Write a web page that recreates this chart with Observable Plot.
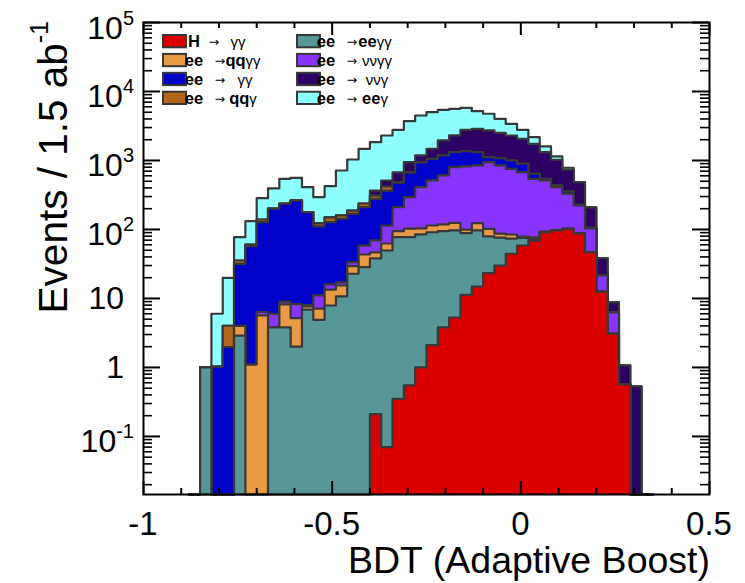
<!DOCTYPE html>
<html>
<head>
<meta charset="utf-8">
<script src="https://cdn.jsdelivr.net/npm/d3@7"></script>
<script src="https://cdn.jsdelivr.net/npm/@observablehq/plot@0.6"></script>
<style>
  html, body { margin: 0; padding: 0; background: #fff; }
  #chart svg { display: block; font-family: "Liberation Sans", Arial, Helvetica, sans-serif; }
</style>
</head>
<body>
<div id="chart"></div>
<script>
// BDT output histogram: low edge of each filled bin (bin width 0.03)
const binWidth = 0.03;
const binLow = [-0.85, -0.82, -0.79, -0.76, -0.73, -0.70, -0.67, -0.64, -0.61, -0.58,
  -0.55, -0.52, -0.49, -0.46, -0.43, -0.40, -0.37, -0.34, -0.31, -0.28,
  -0.25, -0.22, -0.19, -0.16, -0.13, -0.10, -0.07, -0.04, -0.01, 0.02,
  0.05, 0.08, 0.11, 0.14, 0.17, 0.20, 0.23, 0.26, 0.29];

// Events per bin for each process (stacked bottom to top in this order)
const hgg = [0, 0, 0, 0, 0, 0, 0, 0, 0, 0, 0, 0, 0, 0, 0,
  0.21, 0.07, 0.35, 0.55, 1.0, 2.1, 3.8, 5.3, 11.3, 14.9, 23.3, 30, 44.5, 58.6, 69,
  91, 97, 102, 88, 47, 12.6, 3.1, 0.57, 0];
const eeeegg = [1.0, 0, 0, 2.9, 0, 0, 3.8, 3.8, 2.0, 6.9, 4.9, 7.9, 10.7, 22.8, 28.4,
  37.8, 49.5, 77, 77, 84, 89, 91, 92, 77, 82, 56, 46, 29, 17, 4,
  1.5, 0.8, 0.4, 0.2, 0, 0, 0, 0, 0];
const eeqqgg = [0, 0, 0, 1.1, 1.1, 5.7, 0, 4.4, 3.2, 0.8, 2.2, 5.5, 4.7, 6.6, 15,
  8.4, 13, 17, 25, 19, 23, 24, 27, 11, 27, 23, 11, 11, 3.4, 4,
  1, 0.5, 0.3, 0.1, 0, 0, 0, 0, 0];
const eevvgg = [0, 0, 0, 0, 0, 0.66, 2.2, 0.8, 3.1, 0.3, 4.0, 2.6, 1.7, 4.2, 15,
  23, 51, 116, 192, 307, 399, 488, 677, 720, 724, 843, 760, 673, 597, 466,
  420, 313, 227, 135, 56.5, 8.9, 3.2, 0, 0];
const eegg = [0, 1.03, 1.97, 27.8, 56, 121, 194, 227, 255, 170, 100, 112, 126, 135, 152,
  209, 253, 265, 374, 530, 543, 575, 520, 545, 473, 171, 233, 242, 220, 99,
  30, 24, 27, 5, 2, 0, 0, 0, 0];
const eeqqg = [0, 0, 2.05, 3.7, 3, 12, 1, 1, 1, 1, 11.5, 21.7, 16.7, 19.5, 27.5,
  32, 53, 10, 8, 5, 3, 0, 0, 0, 0, 0, 0, 0, 0, 0,
  0, 0, 0, 0, 0, 0, 0, 0, 0];
const eevvg = [0, 0, 0, 0, 0, 0, 0, 0, 0, 0, 0, 0, 0, 0, 0,
  56, 93, 185, 269, 236, 420, 769, 983, 1422, 1560, 1606, 1439, 1303, 1167, 1104,
  777, 589, 377, 257, 103, 16.9, 2.5, 0.5, 0.53];
const eeeeg = [0, 4.97, 15.9, 41.8, 71.8, 145, 194, 306, 297, 231, 172, 274, 556, 845, 1240,
  1474, 1790, 2116, 2767, 3306, 3533, 3480, 3311, 3017, 2300, 2031, 1499, 1101, 723, 431,
  276, 120, 51, 0, 0, 0, 0, 0, 0];

// Process names, drawing colours, and legend layout (column, row)
const processNames = ["H → γγ", "ee → eeγγ", "ee → qqγγ", "ee → ννγγ", "ee → γγ", "ee → qqγ", "ee → ννγ", "ee → eeγ"];
const processColors = ["#da0000", "#579797", "#e89a45", "#8834ff", "#0000c8", "#b4661c", "#2c0062", "#8effff"];
const legendCol = [0, 1, 0, 1, 0, 0, 1, 1];
const legendRow = [0, 0, 1, 1, 2, 3, 2, 3];

// Axis ticks and labels
const xMajor = [-1, -0.5, 0, 0.5];
const xLabels = ["-1", "-0.5", "0", "0.5"];
const xMinor = [-0.9, -0.8, -0.7, -0.6, -0.4, -0.3, -0.2, -0.1, 0.1, 0.2, 0.3, 0.4];
const yMajor = [1e5, 1e4, 1e3, 100, 10, 1, 0.1];
const yLabelBase = ["10", "10", "10", "10", "10", "1", "10"];
const yLabelExp = ["5", "4", "3", "2", "", "", "-1"];
const yMin = 0.0144, yMax = 1e5;
const yMinor = [];
for (let e = -2; e <= 4; e++) for (let k = 2; k <= 9; k++) {
  const v = k * Math.pow(10, e);
  if (v > yMin && v < yMax) yMinor.push(v);
}

const xTitle = "BDT (Adaptive Boost)";
const yTitle = "Events / 1.5 ab";
const yTitleExp = "-1";

const series = [hgg, eeeegg, eeqqgg, eevvgg, eegg, eeqqg, eevvg, eeeeg];

// Cumulative sums give the top of each stacked layer
let running = binLow.map(() => 0);
const stacks = series.map(vals => {
  running = running.map((r, i) => r + vals[i]);
  return running.slice();
});

function stepPoints(cum) {
  const pts = [{x: binLow[0] - binWidth, v: 0}];
  binLow.forEach((x, i) => pts.push({x, v: cum[i]}));
  const end = binLow[binLow.length - 1] + binWidth;
  pts.push({x: end, v: 0}, {x: end + binWidth, v: 0});
  return pts;
}

const W = 745, H = 583;
const M = {top: 22, right: 36, bottom: 89, left: 143};
const frameW = W - M.left - M.right, frameH = H - M.top - M.bottom;
const outline = "#383838";

const marks = [];
// Draw from the full stack downward so each lower layer overlays the one above
for (let j = stacks.length - 1; j >= 0; j--) {
  const pts = stepPoints(stacks[j]);
  marks.push(Plot.areaY(pts, {x: "x", y1: yMin, y2: "v", curve: "step-after", fill: processColors[j]}));
  marks.push(Plot.lineY(pts, {x: "x", y: "v", curve: "step-after", stroke: outline, strokeWidth: 2.2}));
}
// Inward ticks on all four sides
marks.push(
  Plot.tickY(yMajor, {y: d => d, insetRight: frameW - 17, stroke: "black", strokeWidth: 2}),
  Plot.tickY(yMinor, {y: d => d, insetRight: frameW - 9, stroke: "black", strokeWidth: 1.6}),
  Plot.tickY(yMajor, {y: d => d, insetLeft: frameW - 17, stroke: "black", strokeWidth: 2}),
  Plot.tickY(yMinor, {y: d => d, insetLeft: frameW - 9, stroke: "black", strokeWidth: 1.6}),
  Plot.tickX(xMajor, {x: d => d, insetTop: frameH - 13, stroke: "black", strokeWidth: 2}),
  Plot.tickX(xMinor, {x: d => d, insetTop: frameH - 6, stroke: "black", strokeWidth: 2}),
  Plot.tickX(xMajor, {x: d => d, insetBottom: frameH - 13, stroke: "black", strokeWidth: 2}),
  Plot.tickX(xMinor, {x: d => d, insetBottom: frameH - 6, stroke: "black", strokeWidth: 2}),
  Plot.frame({stroke: "black", strokeWidth: 2})
);

const plot = Plot.plot({
  width: W, height: H,
  marginTop: M.top, marginRight: M.right, marginBottom: M.bottom, marginLeft: M.left,
  style: {background: "#fff", fontFamily: "Liberation Sans, Arial, Helvetica, sans-serif"},
  x: {domain: [-1, 0.5], axis: null},
  y: {type: "log", domain: [yMin, yMax], clamp: true, axis: null},
  marks
});
document.getElementById("chart").appendChild(plot);

const xs = plot.scale("x"), ys = plot.scale("y");
const svg = d3.select(plot);
const font = "Liberation Sans, Arial, Helvetica, sans-serif";

// y tick labels with superscript exponents
yMajor.forEach((v, i) => {
  const py = ys.apply(v);
  if (yLabelExp[i]) {
    const t = svg.append("text").attr("x", 134).attr("y", py + 16.5)
      .attr("text-anchor", "end").attr("font-family", font).attr("font-size", 32).attr("fill", "black");
    t.append("tspan").text(yLabelBase[i]);
    t.append("tspan").attr("dy", -14).attr("font-size", 20).text(yLabelExp[i]);
  } else {
    svg.append("text").attr("x", 124).attr("y", py + 11.5)
      .attr("text-anchor", "end").attr("font-family", font).attr("font-size", 32).attr("fill", "black")
      .text(yLabelBase[i]);
  }
});

// x tick labels
xMajor.forEach((v, i) => {
  svg.append("text").attr("x", xs.apply(v)).attr("y", 535)
    .attr("text-anchor", "middle").attr("font-family", font).attr("font-size", 33).attr("fill", "black")
    .text(xLabels[i]);
});

// axis titles
svg.append("text").attr("x", 710).attr("y", 573).attr("text-anchor", "end")
  .attr("font-family", font).attr("font-size", 37.5).attr("fill", "black").text(xTitle);
const yt = svg.append("text").attr("transform", "translate(67,21) rotate(-90)")
  .attr("text-anchor", "end").attr("font-family", font).attr("font-size", 40.5).attr("fill", "black");
yt.append("tspan").text(yTitle);
yt.append("tspan").attr("dy", -19).attr("font-size", 25).text(yTitleExp);

// legend: coloured boxes and process labels in two columns
const legend = svg.append("g");
const boldParts = /^(H|ee|qq)/;
processNames.forEach((name, j) => {
  const col = legendCol[j];
  const bx = col === 0 ? 163 : 297;
  const by = 35 + legendRow[j] * 18.9;
  legend.append("rect").attr("x", bx).attr("y", by).attr("width", 23).attr("height", 12.3)
    .attr("fill", processColors[j]).attr("stroke", outline).attr("stroke-width", 2);
  const [lhs, rhs] = name.split(" → ");
  const tx = col === 0 ? 194 : 326, ty = by + 12;
  legend.append("text").attr("x", tx).attr("y", ty).attr("font-family", font)
    .attr("font-size", 16.5).attr("font-weight", "bold").text(lhs);
  const ax = lhs === "H" ? tx + 20 : tx + 26;
  legend.append("text").attr("x", ax).attr("y", ty - 1).attr("font-family", "DejaVu Sans")
    .attr("font-size", 12.5).text("→");
  const rx = lhs === "H" ? tx + 44 : (rhs.startsWith("νν") || (col === 0 && rhs.startsWith("γ")) ? tx + 51 : tx + 49);
  const rt = legend.append("text").attr("x", rx).attr("y", ty)
    .attr("font-family", font).attr("font-size", 16.5);
  const m = rhs.match(boldParts);
  if (m) {
    rt.append("tspan").attr("font-weight", "bold").text(m[0]);
    rt.append("tspan").attr("font-size", 15).text(rhs.slice(m[0].length));
  } else {
    rt.append("tspan").attr("font-size", 15).text(rhs);
  }
});
</script>
</body>
</html>
